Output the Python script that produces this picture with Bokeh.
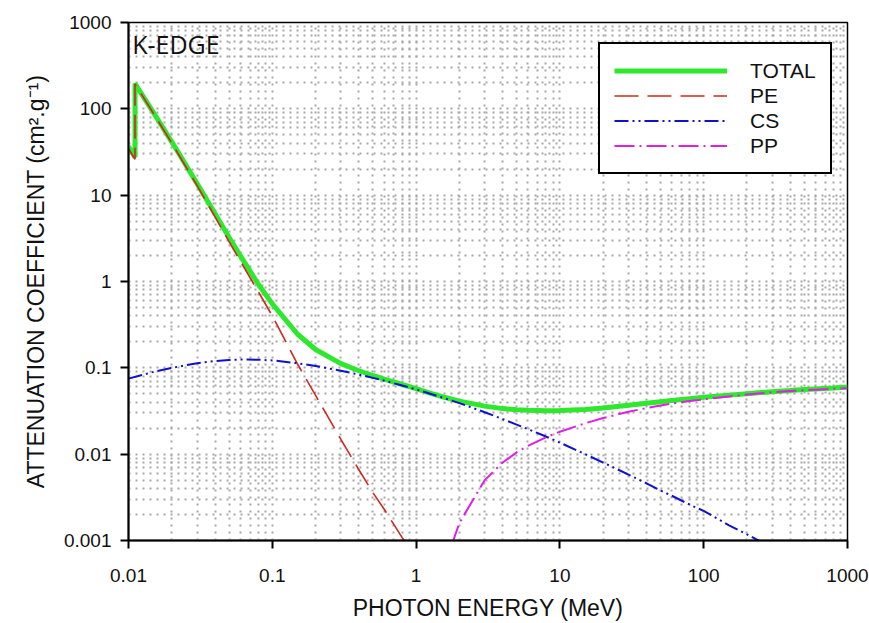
from bokeh.plotting import figure
from bokeh.models import (FixedTicker, Legend, LegendItem, Label,
                          CustomJSTickFormatter, Range1d)
from bokeh.embed import file_html
from bokeh.resources import INLINE

# ---- data ----
energy_pe = [0.01, 0.0111, 0.0111, 0.015, 0.02, 0.03, 0.04, 0.05, 0.06, 0.08,
             0.1, 0.15, 0.2, 0.3, 0.4, 0.5, 0.6, 0.8, 1.0]
pe = [34.5, 26.0, 194.0, 87.0, 40.0, 12.9, 5.6, 2.9, 1.72, 0.76,
      0.40, 0.11, 0.048, 0.0148, 0.0066, 0.0036, 0.0023, 0.00108, 0.00066]

energy_total = [0.01, 0.0111, 0.0111, 0.015, 0.02, 0.03, 0.04, 0.05, 0.06, 0.08,
                0.1, 0.15, 0.2, 0.3, 0.4, 0.5, 0.6, 0.8, 1.0, 1.25, 1.5, 2.0,
                3.0, 4.0, 5.0, 6.0, 8.0, 10.0, 15.0, 20.0, 30.0, 40.0, 50.0,
                60.0, 80.0, 100.0, 150.0, 200.0, 300.0, 400.0, 500.0, 600.0,
                800.0, 1000.0]
total = [36.5, 27.5, 196.0, 89.0, 41.5, 13.6, 6.1, 3.25, 1.98, 0.93,
         0.55, 0.245, 0.163, 0.112, 0.0925, 0.0815, 0.0742, 0.0641, 0.0573,
         0.0510, 0.0466, 0.0412, 0.0360, 0.0337, 0.0327, 0.0322, 0.0318,
         0.0320, 0.0330, 0.0343, 0.0369, 0.0389, 0.0405, 0.0419, 0.0439,
         0.0455, 0.0483, 0.0502, 0.0529, 0.0545, 0.0560, 0.0570, 0.0585,
         0.0600]

energy_cs = [0.01, 0.015, 0.02, 0.03, 0.04, 0.05, 0.06, 0.08, 0.1, 0.15, 0.2,
             0.3, 0.4, 0.5, 0.6, 0.8, 1.0, 1.25, 1.5, 2.0, 3.0, 4.0, 5.0, 6.0,
             8.0, 10.0, 15.0, 20.0, 30.0, 40.0, 50.0, 60.0, 80.0, 100.0, 150.0,
             200.0, 300.0]
cs = [0.075, 0.090, 0.100, 0.113, 0.120, 0.123, 0.125, 0.124, 0.122, 0.113,
      0.105, 0.0925, 0.0835, 0.0765, 0.0710, 0.0625, 0.0562, 0.0502, 0.0457,
      0.0390, 0.0306, 0.0255, 0.0220, 0.0195, 0.0160, 0.0136, 0.0100, 0.0080,
      0.0058, 0.0046, 0.0038, 0.0033, 0.0026, 0.0022, 0.0015, 0.00118, 0.00082]

energy_pp = [1.5, 2.0, 3.0, 4.0, 5.0, 6.0, 8.0, 10.0, 15.0, 20.0, 30.0, 40.0,
             50.0, 60.0, 80.0, 100.0, 150.0, 200.0, 300.0, 400.0, 500.0,
             600.0, 800.0, 1000.0]
pp = [0.0004, 0.0016, 0.0050, 0.0080, 0.0105, 0.0125, 0.0157, 0.0182, 0.0228,
      0.0262, 0.0310, 0.0342, 0.0366, 0.0385, 0.0412, 0.0432, 0.0467, 0.0490,
      0.0520, 0.0538, 0.0550, 0.0559, 0.0571, 0.0582]

x_ticks = [0.01, 0.1, 1, 10, 100, 1000]
x_tick_labels = ["0.01", "0.1", "1", "10", "100", "1000"]
y_ticks = [0.001, 0.01, 0.1, 1, 10, 100, 1000]
y_tick_labels = ["0.001", "0.01", "0.1", "1", "10", "100", "1000"]
x_minor = [m * d for d in [0.01, 0.1, 1, 10, 100] for m in range(2, 10)]
y_minor = [m * d for d in [0.001, 0.01, 0.1, 1, 10, 100] for m in range(2, 10)]

series_names = ["TOTAL", "PE", "CS", "PP"]
annotation_text = "K-EDGE"

# ---- figure ----
p = figure(width=869, height=623, x_axis_type="log", y_axis_type="log",
           x_range=Range1d(0.01, 1000), y_range=Range1d(0.001, 1000),
           output_backend="svg", toolbar_location=None,
           min_border_left=128, min_border_right=22, min_border_top=22,
           min_border_bottom=82, background_fill_color="white",
           border_fill_color="white")

p.outline_line_color = "black"
p.outline_line_width = 1.5
p.outline_line_alpha = 1

fmt_code = """
let best = 0; let bd = 1e9;
for (let i = 0; i < tvals.length; i++) {
  const d = Math.abs(Math.log10(tvals[i]) - Math.log10(tick));
  if (d < bd) { bd = d; best = i; }
}
return tlabs[best];
"""
p.xaxis.ticker = FixedTicker(ticks=x_ticks, minor_ticks=x_minor)
p.yaxis.ticker = FixedTicker(ticks=y_ticks, minor_ticks=y_minor)
p.xaxis.formatter = CustomJSTickFormatter(args=dict(tvals=x_ticks, tlabs=x_tick_labels), code=fmt_code)
p.yaxis.formatter = CustomJSTickFormatter(args=dict(tvals=y_ticks, tlabs=y_tick_labels), code=fmt_code)

for ax in (p.xaxis, p.yaxis):
    ax.axis_line_color = "black"
    ax.axis_line_width = 2
    ax.major_tick_line_color = "black"
    ax.major_tick_line_width = 2
    ax.major_tick_out = 8
    ax.major_tick_in = 0
    ax.minor_tick_out = 0
    ax.minor_tick_in = 0
    ax.major_label_text_font = "Liberation Sans"
    ax.major_label_text_font_size = "19px"
    ax.major_label_text_color = "#111111"
    ax.axis_label_text_font = "Liberation Sans"
    ax.axis_label_text_font_size = "23px"
    ax.axis_label_text_font_style = "normal"
    ax.axis_label_text_color = "#111111"

p.xaxis.major_label_standoff = 20
p.yaxis.major_label_standoff = 9
p.xaxis.axis_label = "PHOTON ENERGY (MeV)"
p.yaxis.axis_label = "ATTENUATION COEFFICIENT (cm\u00b2.g\u207b\u00b9)"
p.xaxis.axis_label_standoff = 10
p.yaxis.axis_label_standoff = 12

for g in (p.xgrid, p.ygrid):
    g.grid_line_color = "#a8a8a8"
    g.grid_line_width = 2
    g.grid_line_dash = "2 5"
    g.minor_grid_line_color = "#a8a8a8"
    g.minor_grid_line_width = 2
    g.minor_grid_line_dash = "2 5"

r_total = p.line(energy_total, total, line_color="#2ee82e", line_width=5)
r_pe = p.line(energy_pe, pe, line_color="#cc2a22", line_width=1.6, line_dash="24 9")
r_cs = p.line(energy_cs, cs, line_color="#1010d0", line_width=2, line_dash="14 4 2 4 2 4")
r_pp = p.line(energy_pp, pp, line_color="#e020e0", line_width=2, line_dash="20 5 2 5")

legend = Legend(items=[LegendItem(label=series_names[0], renderers=[r_total]),
                       LegendItem(label=series_names[1], renderers=[r_pe]),
                       LegendItem(label=series_names[2], renderers=[r_cs]),
                       LegendItem(label=series_names[3], renderers=[r_pp])],
                location=(470, 366))
legend.border_line_color = "black"
legend.border_line_width = 2
legend.border_line_alpha = 1
legend.background_fill_color = "white"
legend.background_fill_alpha = 1
legend.glyph_width = 113
legend.glyph_height = 25
legend.label_height = 25
legend.label_standoff = 23
legend.label_width = 60
legend.spacing = 0
legend.padding = 14
legend.margin = 0
legend.label_text_font = "Liberation Sans"
legend.label_text_font_size = "21px"
legend.label_text_color = "#111111"
p.add_layout(legend, "center")

p.add_layout(Label(x=0.0106, y=360, text=annotation_text, text_font="Open Sans",
                   text_font_size="25px", text_color="#111111"))

open("out.html", "w").write(file_html(p, INLINE))
